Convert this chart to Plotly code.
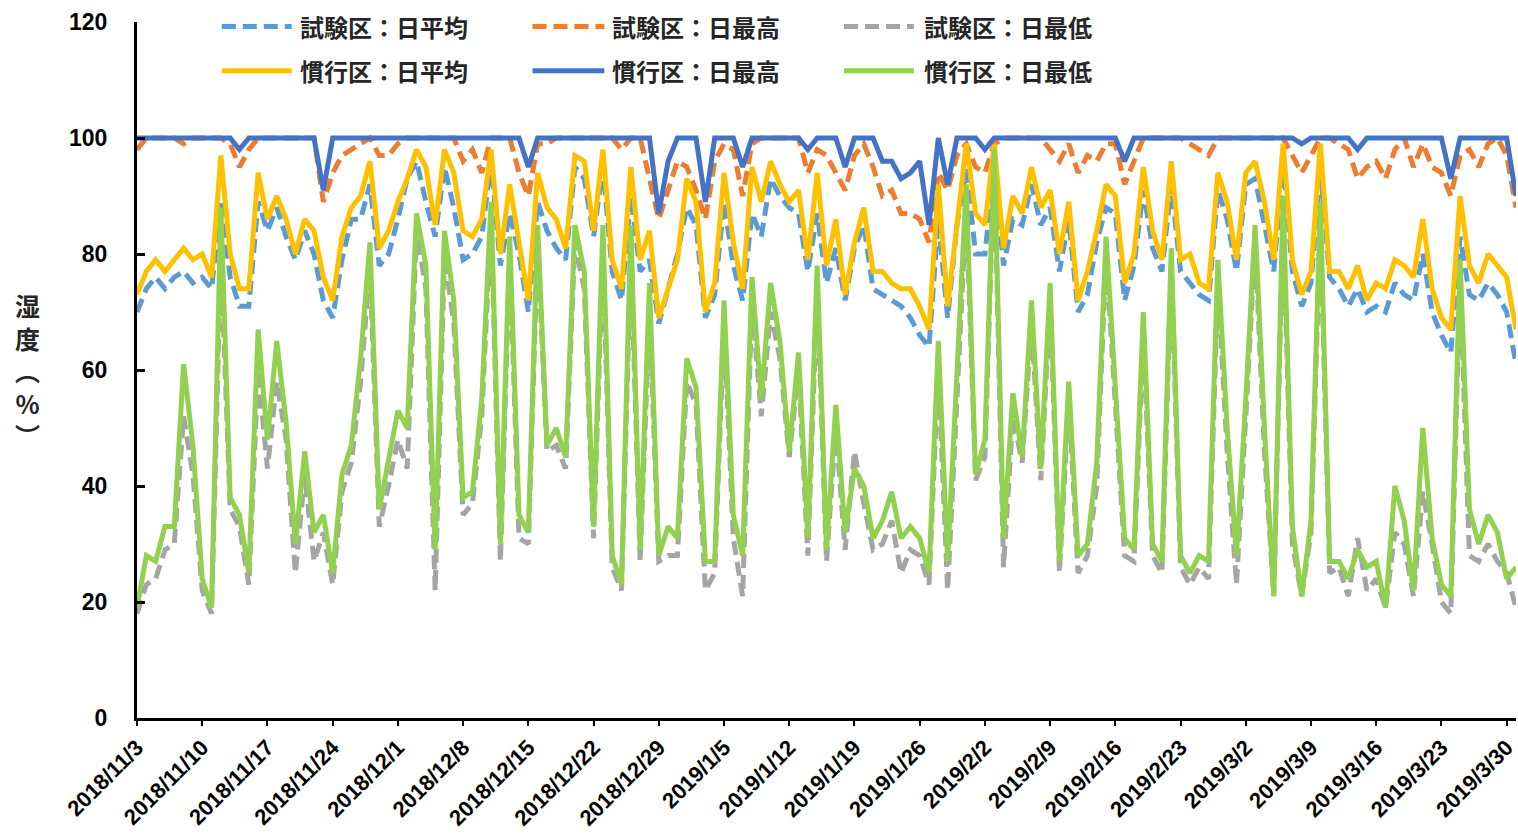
import pandas as pd
import plotly.graph_objects as go

# Daily humidity records, 2018/11/3 - 2019/3/31
dates = pd.date_range("2018-11-03", "2019-03-31", freq="D")

test_avg = [70, 74, 76, 74, 76, 77, 75, 76, 74, 89, 76, 71, 71, 89, 84, 88, 83, 79, 84, 80,
            72, 69, 79, 86, 86, 92, 78, 80, 86, 93, 96, 89, 83, 95, 88, 79, 80, 83, 96, 78,
            87, 80, 70, 89, 84, 81, 79, 95, 93, 83, 95, 77, 72, 90, 77, 79, 68, 74, 80, 88,
            85, 69, 73, 89, 78, 72, 87, 83, 93, 90, 88, 87, 77, 87, 75, 81, 72, 81, 85, 74,
            73, 72, 71, 69, 66, 64, 86, 69, 85, 95, 80, 80, 95, 78, 86, 85, 92, 85, 88, 77,
            86, 70, 73, 82, 88, 87, 72, 78, 91, 81, 77, 92, 77, 75, 73, 72, 91, 86, 77, 92,
            93, 85, 77, 96, 77, 71, 75, 95, 76, 74, 71, 74, 70, 71, 70, 75, 73, 72, 80, 70,
            66, 63, 83, 73, 72, 75, 73, 70, 61]

test_max = [98, 100, 100, 100, 100, 99, 100, 100, 100, 100, 99, 95, 98, 100, 100, 100, 100, 100, 100, 100,
            89, 94, 97, 98, 99, 100, 97, 97, 99, 100, 100, 100, 100, 100, 100, 96, 98, 94, 100, 100,
            100, 94, 90, 99, 99, 100, 100, 100, 100, 100, 100, 100, 98, 100, 100, 93, 86, 91, 96, 95,
            91, 86, 96, 99, 98, 90, 99, 100, 100, 100, 100, 100, 94, 98, 97, 94, 91, 97, 99, 95,
            90, 91, 87, 87, 86, 82, 94, 91, 97, 99, 95, 94, 99, 100, 100, 100, 100, 100, 98, 96,
            99, 94, 97, 96, 99, 99, 92, 96, 100, 100, 100, 100, 100, 99, 98, 97, 100, 100, 100, 100,
            100, 100, 100, 100, 97, 94, 97, 100, 100, 99, 98, 93, 95, 96, 93, 98, 100, 95, 99, 95,
            94, 90, 97, 98, 95, 99, 100, 97, 88]

test_min = [18, 23, 24, 29, 30, 52, 42, 22, 18, 80, 36, 33, 23, 60, 43, 58, 48, 25, 42, 27,
            32, 23, 39, 44, 58, 78, 33, 40, 48, 43, 84, 74, 22, 80, 68, 35, 37, 52, 86, 27,
            80, 31, 30, 82, 46, 47, 43, 82, 74, 31, 80, 26, 22, 80, 27, 70, 27, 28, 28, 58,
            54, 22, 25, 68, 31, 21, 72, 52, 70, 62, 45, 60, 28, 74, 27, 50, 29, 46, 37, 29,
            30, 34, 25, 29, 28, 23, 60, 22, 55, 88, 41, 45, 96, 26, 52, 44, 68, 41, 72, 25,
            55, 25, 28, 40, 80, 55, 28, 27, 66, 28, 25, 78, 26, 23, 26, 24, 75, 46, 23, 52,
            82, 46, 21, 86, 30, 21, 32, 85, 25, 26, 21, 31, 22, 24, 19, 32, 30, 21, 39, 30,
            20, 18, 76, 28, 27, 30, 27, 25, 19]

conv_avg = [73, 77, 79, 77, 79, 81, 79, 80, 76, 97, 80, 74, 74, 94, 86, 90, 86, 80, 86, 84,
            76, 72, 83, 88, 90, 96, 81, 84, 89, 93, 98, 95, 85, 98, 94, 84, 83, 86, 98, 80,
            92, 82, 72, 94, 88, 86, 81, 97, 96, 84, 98, 79, 74, 95, 79, 84, 69, 74, 79, 93,
            89, 70, 75, 94, 82, 74, 95, 89, 96, 92, 89, 91, 79, 94, 78, 86, 73, 82, 88, 77,
            77, 75, 74, 74, 71, 67, 92, 71, 86, 99, 87, 85, 99, 81, 90, 87, 95, 88, 91, 80,
            89, 72, 77, 84, 92, 90, 75, 80, 95, 84, 79, 96, 79, 80, 75, 74, 94, 89, 79, 94,
            96, 89, 79, 99, 79, 73, 77, 99, 77, 77, 74, 78, 72, 75, 74, 79, 78, 76, 86, 74,
            69, 67, 90, 78, 75, 80, 78, 76, 67]

conv_max = [100, 100, 100, 100, 100, 100, 100, 100, 100, 100, 100, 98, 100, 100, 100, 100, 100, 100, 100, 100,
            91, 100, 100, 100, 100, 100, 100, 100, 100, 100, 100, 100, 100, 100, 100, 100, 100, 100, 100, 100,
            100, 100, 95, 100, 100, 100, 100, 100, 100, 100, 100, 100, 100, 100, 100, 100, 87, 96, 100, 100,
            100, 89, 100, 100, 100, 95, 100, 100, 100, 100, 100, 100, 98, 100, 100, 100, 95, 100, 100, 100,
            96, 96, 93, 94, 96, 85, 100, 92, 100, 100, 100, 98, 100, 100, 100, 100, 100, 100, 100, 100,
            100, 100, 100, 100, 100, 100, 96, 100, 100, 100, 100, 100, 100, 100, 100, 100, 100, 100, 100, 100,
            100, 100, 100, 100, 100, 99, 100, 100, 100, 100, 100, 98, 100, 100, 100, 100, 100, 100, 100, 100,
            100, 93, 100, 100, 100, 100, 100, 100, 90]

conv_min = [19, 28, 27, 33, 33, 61, 47, 24, 19, 88, 38, 35, 25, 67, 48, 65, 51, 30, 46, 32,
            35, 25, 42, 47, 62, 82, 36, 45, 53, 50, 87, 78, 29, 84, 72, 38, 39, 55, 89, 30,
            83, 35, 32, 85, 47, 50, 45, 85, 77, 33, 85, 28, 23, 85, 29, 75, 28, 33, 31, 62,
            57, 27, 27, 72, 35, 28, 76, 55, 75, 65, 46, 63, 31, 78, 29, 54, 32, 43, 40, 31,
            34, 39, 31, 33, 31, 25, 65, 27, 60, 92, 42, 48, 98, 31, 56, 45, 72, 43, 75, 27,
            58, 28, 30, 44, 83, 58, 31, 29, 70, 30, 27, 81, 28, 25, 28, 27, 79, 50, 28, 55,
            85, 50, 21, 90, 33, 21, 34, 89, 27, 27, 24, 29, 26, 27, 19, 40, 34, 22, 50, 31,
            23, 21, 79, 36, 30, 35, 32, 24, 26]

tick_labels = ["2018/11/3", "2018/11/10", "2018/11/17", "2018/11/24", "2018/12/1",
               "2018/12/8", "2018/12/15", "2018/12/22", "2018/12/29", "2019/1/5",
               "2019/1/12", "2019/1/19", "2019/1/26", "2019/2/2", "2019/2/9",
               "2019/2/16", "2019/2/23", "2019/3/2", "2019/3/9", "2019/3/16",
               "2019/3/23", "2019/3/30"]
tick_dates = pd.date_range("2018-11-03", periods=len(tick_labels), freq="7D")

series = [
    ("試験区：日平均", test_avg, "#5B9BD5", "14px,7px"),
    ("試験区：日最高", test_max, "#ED7D31", "14px,7px"),
    ("試験区：日最低", test_min, "#A5A5A5", "14px,7px"),
    ("慣行区：日平均", conv_avg, "#FFC000", "solid"),
    ("慣行区：日最高", conv_max, "#4472C4", "solid"),
    ("慣行区：日最低", conv_min, "#92D050", "solid"),
]

fig = go.Figure()
for name, vals, color, dash in series:
    fig.add_trace(go.Scatter(x=dates, y=vals, mode="lines", name=name,
                             line=dict(color=color, width=5, dash=dash),
                             showlegend=False))

# Two-row legend drawn inside the plot area with long line samples
cjk = "Noto Sans CJK JP"
legend_cols = [(0.0615, 0.1122, 0.117), (0.2868, 0.3389, 0.343), (0.5127, 0.5634, 0.5695)]
legend_rows = [0.9935, 0.930]
for k, (name, vals, color, dash) in enumerate(series):
    row, col = divmod(k, 3)
    x0, x1, xt = legend_cols[col]
    yy = legend_rows[row]
    fig.add_shape(type="line", xref="paper", yref="paper", x0=x0, x1=x1, y0=yy, y1=yy,
                  line=dict(color=color, width=5, dash=dash))
    fig.add_annotation(xref="paper", yref="paper", x=xt, y=yy, text=name,
                       showarrow=False, xanchor="left", yanchor="middle",
                       font=dict(family=cjk, size=24, color="#262626", weight="bold"))

fig.add_annotation(xref="paper", yref="paper", x=-0.0797, y=0.5, text="湿<br>度<br>︵<br>%<br>︶",
                   showarrow=False, xanchor="center", yanchor="middle",
                   font=dict(family=cjk, size=25, color="#262626", weight="bold"))

fig.update_layout(
    width=1518, height=838,
    margin=dict(l=137, r=0, t=22, b=120),
    plot_bgcolor="white", paper_bgcolor="white",
    xaxis=dict(
        range=[dates[0], dates[-1]],
        tickvals=tick_dates, ticktext=tick_labels, tickangle=-45,
        tickfont=dict(family="Liberation Sans", size=22, color="black", weight="bold"),
        ticklabeloverflow="allow",
        showline=True, linecolor="black", linewidth=3,
        ticks="outside", ticklen=5, tickwidth=2, tickcolor="black",
        showgrid=False, zeroline=False,
    ),
    yaxis=dict(
        range=[0, 120], dtick=20,
        tickfont=dict(family="Liberation Sans", size=23, color="black", weight="bold"),
        showline=True, linecolor="black", linewidth=3,
        ticks="inside", ticklen=8, tickwidth=3, tickcolor="black",
        ticklabelstandoff=22,
        showgrid=False, zeroline=False,
    ),
)

fig.write_html("out.html")
